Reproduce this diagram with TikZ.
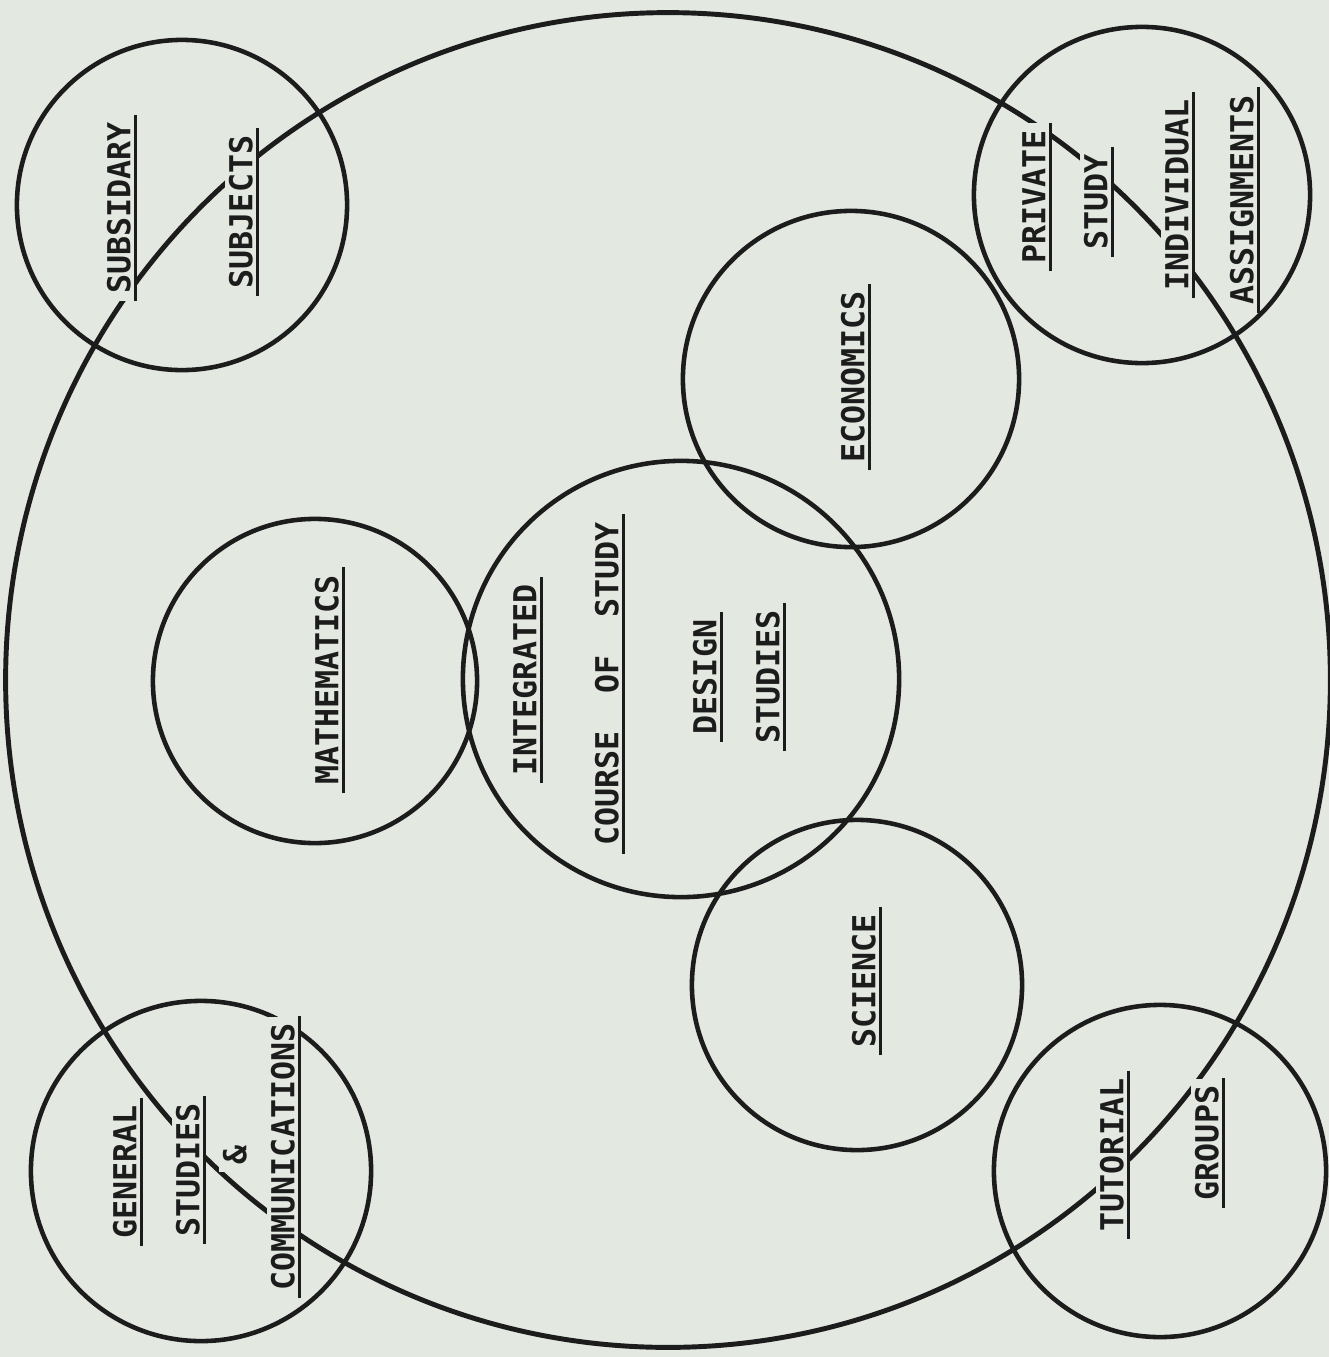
\documentclass[tikz,border=0pt]{standalone}
\usepackage{fontspec}
\usepackage{xcolor}
\usepackage{tikz}
\newfontfamily\typefont{DejaVu Sans Mono}
\definecolor{paper}{HTML}{E3E8E1}
\definecolor{ink}{HTML}{1C1C1C}

\begin{document}
\begin{tikzpicture}[x=0.01cm,y=-0.01cm,
    ring/.style={draw=ink,circle,line width=1.3pt,minimum size=#1},
    word/.style={rotate=90,fill=paper,text=ink,inner xsep=2pt,inner ysep=1.3pt,
                 text height=6.4pt,text depth=0pt,
                 font=\typefont\bfseries\fontsize{9}{11}\selectfont},
    uline/.style={draw=ink,line width=1.1pt}]
  \fill[paper] (0,0) rectangle (1329,1357);
  \useasboundingbox (0,0) rectangle (1329,1357);
  % the course as a whole
  \draw[draw=ink,line width=1.4pt] (668,680) ellipse [x radius=6.62cm,y radius=6.67cm];
  % rings
  \node[ring=3.30cm] (subsring) at (182,205) {};
  \node[ring=3.36cm] (privring) at (1142,195) {};
  \node[ring=3.40cm] (genring) at (201,1171) {};
  \node[ring=3.32cm] (tutring) at (1160,1171) {};
  \node[ring=3.36cm] (econring) at (851,379) {};
  \node[ring=3.24cm] (mathring) at (315,681) {};
  \node[ring=4.36cm] (corering) at (681,679) {};
  \node[ring=3.30cm] (sciring) at (857,985) {};
  % words
  \node[word] (subsidary) at (119,208) {SUBSIDARY};
  \node[word] (subjects) at (241,212) {SUBJECTS};
  \node[word] (private) at (1034,197) {PRIVATE};
  \node[word] (studyone) at (1096,202) {STUDY};
  \node[word] (individual) at (1177,195) {INDIVIDUAL};
  \node[word] (assignments) at (1242,200) {ASSIGNMENTS};
  \node[word] (general) at (125,1172) {GENERAL};
  \node[word] (studiestwo) at (188,1170) {STUDIES};
  \node[word] (amp) at (235,1155) {\&};
  \node[word] (communications) at (283,1157) {COMMUNICATIONS};
  \node[word] (tutorial) at (1112,1155) {TUTORIAL};
  \node[word] (groups) at (1207,1143) {GROUPS};
  \node[word] (integrated) at (525,680) {INTEGRATED};
  \node[word] (course) at (607,684) {COURSE~~OF~~STUDY};
  \node[word] (design) at (705,677) {DESIGN};
  \node[word] (studies) at (768,677) {STUDIES};
  \node[word] (mathematics) at (327,680) {MATHEMATICS};
  \node[word] (economics) at (853,377) {ECONOMICS};
  \node[word] (science) at (864,981) {SCIENCE};
  \foreach \w in {subsidary,subjects,private,studyone,individual,assignments,
                  general,studiestwo,communications,tutorial,groups,
                  integrated,course,design,studies,mathematics,economics,science}
    \draw[uline] (\w.south west) -- (\w.south east);
\end{tikzpicture}
\end{document}
